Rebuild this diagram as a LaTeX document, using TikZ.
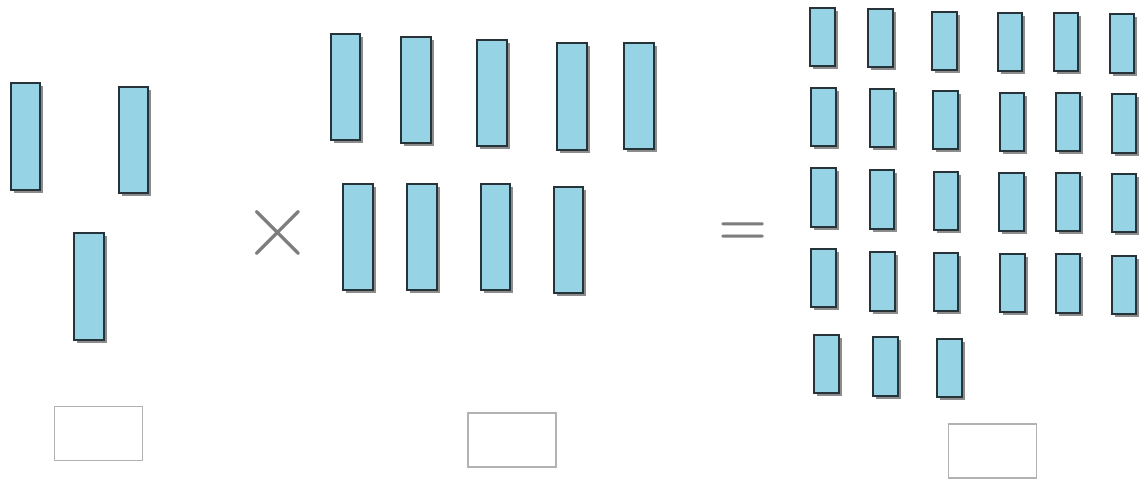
\documentclass[tikz,border=0pt]{standalone}
\usepackage{fontspec}
\usepackage{tikz}
\usetikzlibrary{shadows}
\definecolor{barFill}  {RGB}{150,211,228}
\definecolor{barEdge}  {RGB}{38, 52, 58}
\definecolor{barShade} {RGB}{140,140,140}
\definecolor{signGray} {RGB}{125,125,125}
\definecolor{boxGray}  {RGB}{178,178,178}

\tikzset{
  bigbar/.style={draw=barEdge,fill=barFill,line width=1pt,inner sep=0pt,
    minimum width=0.59cm,minimum height=2.13cm,
    drop shadow={shadow xshift=1.8pt,shadow yshift=-1.8pt,fill=barShade,opacity=1}},
  smallbar/.style={bigbar,minimum width=0.49cm,minimum height=1.17cm},
  answerbox/.style={draw=boxGray,line width=0.8pt,inner sep=0pt,
    minimum width=1.76cm,minimum height=1.08cm},
  sign/.style={signGray,inner sep=0pt}
}

\begin{document}
\begin{tikzpicture}[x=0.02cm,y=-0.02cm]
        \useasboundingbox (0,0) rectangle (1140,479);

        % first factor
        \foreach \x/\y [count=\i] in {25.5/136.5, 133.5/140, 89/286.5}{
          \node[bigbar] (left\i) at (\x,\y) {};
        }
        \node[answerbox] (leftbox) at (98.5,433.5) {};

        \node[sign,font=\fontsize{56}{56}\selectfont] (times) at (278,233.5) {×};

        % second factor, two rows
        \foreach \x/\y [count=\i] in {345.5/87, 416/90, 492/93, 572/96.5, 639/96,
                                     358/237, 422/237, 495.5/237, 568.5/240}{
          \node[bigbar] (mid\i) at (\x,\y) {};
        }
        \node[answerbox] (midbox) at (512,440) {};

        \node[sign,font=\fontsize{32}{32}\selectfont\bfseries] (equals) at (743.5,233.5) {=};

        % product, five rows
        \foreach \x/\y [count=\i] in {
            822.5/37,  880.5/38,  944.5/41,  1010/42,   1066/42,   1122/43.5,
            823.5/117, 882/118,   945.5/120, 1012/122,  1068/122,  1124/123.5,
            823.5/197.5, 882/199.5, 946/201, 1011.5/202, 1068/202, 1124/203,
            823.5/278, 882.5/281.5, 946/282, 1012.5/283, 1068/283.5, 1124/285,
            826.5/364, 885.5/366.5, 949.5/368}{
          \node[smallbar] (right\i) at (\x,\y) {};
        }
        \node[answerbox] (rightbox) at (992.5,451) {};
      \end{tikzpicture}
\end{document}
